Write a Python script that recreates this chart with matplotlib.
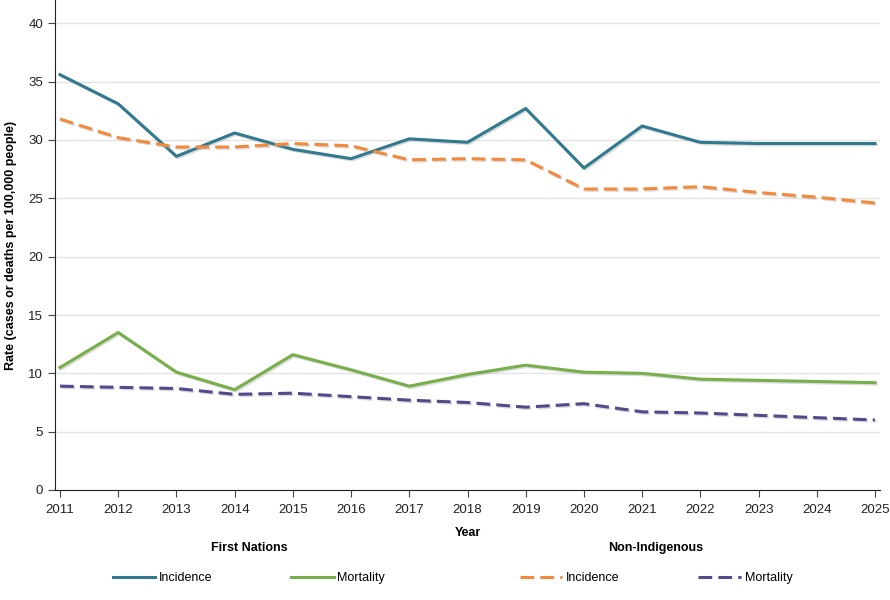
import matplotlib
matplotlib.use('Agg')
import matplotlib.pyplot as plt
import matplotlib.patheffects as pe
from matplotlib.lines import Line2D

plt.rcParams['font.family'] = ['Liberation Sans', 'DejaVu Sans']

years = list(range(2011, 2026))

# First Nations
fn_incidence = [35.6, 33.1, 28.6, 30.6, 29.2, 28.4, 30.1, 29.8, 32.7, 27.6, 31.2, 29.8, 29.7, 29.7, 29.7]
fn_mortality = [10.5, 13.5, 10.1, 8.6, 11.6, 10.3, 8.9, 9.9, 10.7, 10.1, 10.0, 9.5, 9.4, 9.3, 9.2]

# Non-Indigenous
ni_incidence = [31.8, 30.2, 29.4, 29.4, 29.7, 29.5, 28.3, 28.4, 28.3, 25.8, 25.8, 26.0, 25.5, 25.1, 24.6]
ni_mortality = [8.9, 8.8, 8.7, 8.2, 8.3, 8.0, 7.7, 7.5, 7.1, 7.4, 6.7, 6.6, 6.4, 6.2, 6.0]

c_teal = '#31798F'
c_green = '#77B04B'
c_orange = '#F28A3D'
c_purple = '#56488B'

fig = plt.figure(figsize=(8.9, 6), dpi=100)
ax = fig.add_axes([55/890, 1-490/600, 825/890, 490/600])

shadow = [pe.SimpleLineShadow(offset=(1, -1), shadow_color='#999999', alpha=0.35), pe.Normal()]
lw = 2.2
dash = (4.5, 2)

ax.plot(years, fn_incidence, color=c_teal, lw=lw, path_effects=shadow, zorder=3)
ax.plot(years, fn_mortality, color=c_green, lw=lw, path_effects=shadow, zorder=3)
ax.plot(years, ni_incidence, color=c_orange, lw=lw, dashes=dash, path_effects=shadow, zorder=3)
ax.plot(years, ni_mortality, color=c_purple, lw=lw, dashes=dash, path_effects=shadow, zorder=3)

ax.set_xlim(2010.914, 2025.086)
ax.set_ylim(0, 42)
ax.set_xticks(years)
ax.set_yticks(range(0, 41, 5))
ax.grid(axis='y', color='#E3E3E3', lw=1)
ax.set_axisbelow(True)
for s in ['top', 'right']:
    ax.spines[s].set_visible(False)
ax.spines['left'].set_color('#222222')
ax.spines['bottom'].set_color('#222222')
ax.tick_params(axis='both', labelsize=9.5, length=5, color='#444444', labelcolor='#222222')
ax.tick_params(axis='x', pad=5)

ax.set_xlabel('Year', fontsize=9, fontweight='bold', labelpad=8)
ax.set_ylabel('Rate (cases or deaths per 100,000 people)', fontsize=9, fontweight='bold', labelpad=8)

# legends
h_fn = [Line2D([], [], color=c_teal, lw=lw), Line2D([], [], color=c_green, lw=lw)]
h_ni = [Line2D([], [], color=c_orange, lw=lw, dashes=dash), Line2D([], [], color=c_purple, lw=lw, dashes=dash)]
for handles, title, xc in [(h_fn, 'First Nations', 249/890), (h_ni, 'Non-Indigenous', 656/890)]:
    leg = fig.legend(handles, ['Incidence', 'Mortality'], ncol=2, loc='center',
                     bbox_to_anchor=(xc, 1-563/600), frameon=False, fontsize=9,
                     handlelength=3.4, handletextpad=0.3, columnspacing=6.3,
                     title=title, title_fontproperties={'weight': 'bold', 'size': 9})
    leg._legend_box.sep = 13

fig.savefig('out.png', dpi=100)
